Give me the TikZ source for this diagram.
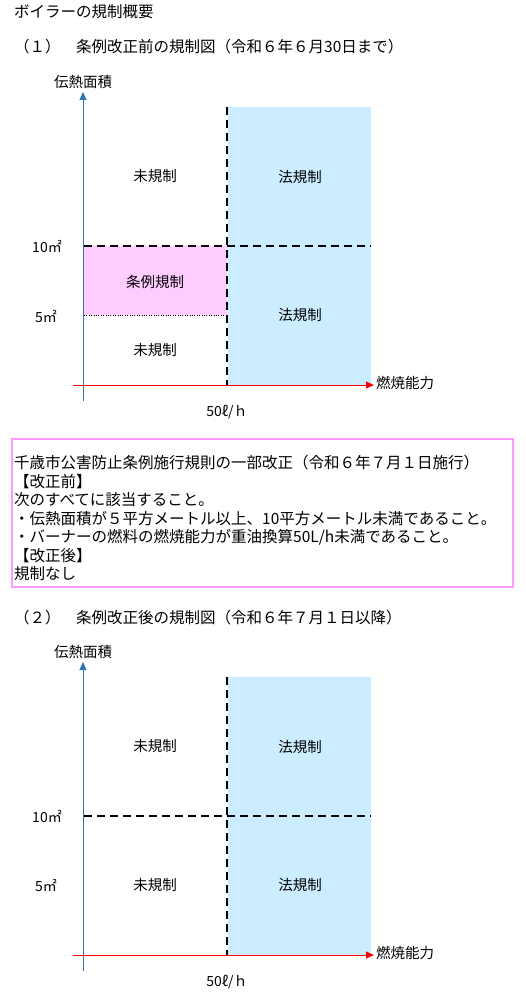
\documentclass[tikz,border=0pt]{standalone}
\usepackage{fontspec}
\setmainfont{Noto Sans CJK JP}
\usetikzlibrary{arrows.meta}
\definecolor{lawblue}{HTML}{CCECFF}
\definecolor{ordpink}{HTML}{FFCCFF}
\definecolor{axisblue}{HTML}{2E75B6}
\definecolor{boxpink}{HTML}{FF99FF}
\begin{document}
\begin{tikzpicture}[x=1pt,y=-1pt,
  txt/.style={font=\fontsize{15.5}{18}\selectfont, inner sep=0, anchor=base west},
  lbl/.style={font=\fontsize{14.5}{18}\selectfont, inner sep=0},
  ylbl/.style={font=\fontsize{14}{18}\selectfont, inner sep=0},
  divline/.style={line width=2pt, dash pattern=on 8pt off 5pt},
  yaxis/.style={axisblue, line width=1pt, -{Triangle[length=8pt,width=7pt]}},
  xaxis/.style={red, line width=1pt, -{Triangle[length=8pt,width=7pt]}}]
\useasboundingbox (0,0) rectangle (526,992);

\node[txt] (title) at (14,18) {ボイラーの規制概要};
\node[txt] (head1) at (14,53) {（１）　条例改正前の規制図（令和６年６月30日まで）};

% ---- diagram 1 ----
\fill[lawblue] (228,107) rectangle (371,385);
\fill[ordpink] (84,246) rectangle (227,315);
\coordinate (d1tl) at (84,315);
\coordinate (d1tr) at (227,315);
\draw[dotted] (d1tl) -- (d1tr);
\coordinate (v1t) at (227,107);
\coordinate (v1b) at (227,385);
\draw[divline] (v1t) -- (v1b);
\coordinate (h1l) at (84,246);
\coordinate (h1r) at (371,246);
\draw[divline] (h1l) -- (h1r);
\coordinate (ya1s) at (83,401);
\coordinate (ya1e) at (83,92);
\draw[yaxis] (ya1s) -- (ya1e);
\coordinate (xa1s) at (73,385);
\coordinate (xa1e) at (374,385);
\draw[xaxis] (xa1s) -- (xa1e);
\node[lbl] (yt1) at (83,82) {伝熱面積};
\node[lbl,anchor=west] (xt1) at (376,383) {燃焼能力};
\node[lbl] (a1) at (155,176) {未規制};
\node[lbl] (b1) at (300,177) {法規制};
\node[lbl] (c1) at (155,282) {条例規制};
\node[lbl] (d1) at (300,315) {法規制};
\node[lbl] (e1) at (155,350) {未規制};
\node[ylbl] (t10a) at (47,246) {10㎡};
\node[ylbl] (t5a) at (46,316) {5㎡};
\node[ylbl] (cap1) at (227,412) {50ℓ/ｈ};

% ---- notice box ----
\draw[boxpink, line width=2pt] (12,439) rectangle (513,587);
\node[txt] (l1) at (14,468.5) {千歳市公害防止条例施行規則の一部改正（令和６年７月１日施行）};
\node[txt] (l2) at (14,487) {【改正前】};
\node[txt] (l3) at (14,505.5) {次のすべてに該当すること。};
\node[txt] (l4) at (14,524) {・伝熱面積が５平方メートル以上、10平方メートル未満であること。};
\node[txt] (l5) at (14,542.5) {・バーナーの燃料の燃焼能力が重油換算50L/h未満であること。};
\node[txt] (l6) at (14,561) {【改正後】};
\node[txt] (l7) at (14,579.5) {規制なし};

\node[txt] (head2) at (14,623) {（２）　条例改正後の規制図（令和６年７月１日以降）};

% ---- diagram 2 ----
\fill[lawblue] (228,677) rectangle (371,955);
\coordinate (v2t) at (227,677);
\coordinate (v2b) at (227,955);
\draw[divline] (v2t) -- (v2b);
\coordinate (h2l) at (84,816);
\coordinate (h2r) at (371,816);
\draw[divline] (h2l) -- (h2r);
\coordinate (ya2s) at (83,971);
\coordinate (ya2e) at (83,662);
\draw[yaxis] (ya2s) -- (ya2e);
\coordinate (xa2s) at (73,955);
\coordinate (xa2e) at (374,955);
\draw[xaxis] (xa2s) -- (xa2e);
\node[lbl] (yt2) at (83,652) {伝熱面積};
\node[lbl,anchor=west] (xt2) at (376,953) {燃焼能力};
\node[lbl] (a2) at (155,746) {未規制};
\node[lbl] (b2) at (300,747) {法規制};
\node[lbl] (e2) at (155,885) {未規制};
\node[lbl] (d2) at (300,885) {法規制};
\node[ylbl] (t10b) at (47,816) {10㎡};
\node[ylbl] (t5b) at (46,885) {5㎡};
\node[ylbl] (cap2) at (227,982) {50ℓ/ｈ};
\end{tikzpicture}
\end{document}
